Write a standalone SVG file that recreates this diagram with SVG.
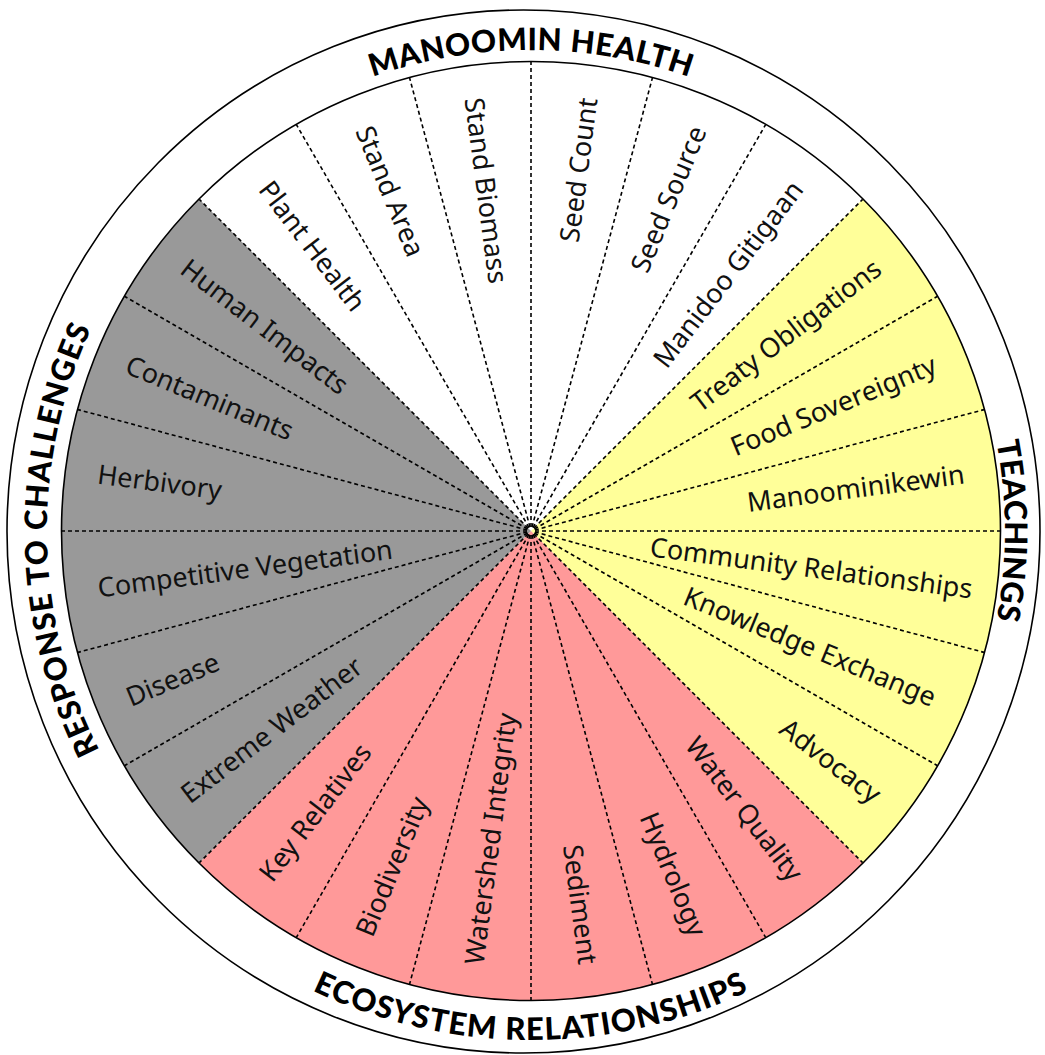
<svg xmlns="http://www.w3.org/2000/svg" xmlns:xlink="http://www.w3.org/1999/xlink" width="1045" height="1055" viewBox="0 0 1045 1055">
  <style>
    .ring { fill: none; stroke: #000; stroke-width: 1.6; }
    .spoke { stroke: #000; stroke-width: 1.6; stroke-dasharray: 4 3; }
    .lbl { font-family: "Noto Sans", "DejaVu Sans", sans-serif; font-size: 27px; fill: #111; }
    .out { text-anchor: end; }
    .in { text-anchor: start; }
    .title { font-family: Lato, "Liberation Sans", sans-serif; font-weight: 900; font-size: 31px; fill: #000; letter-spacing: 1.1px; }
    .tight { letter-spacing: 0.5px; }
  </style>
  <defs>
    <path id="arcTop" d="M50,531 A481,481 0 0 1 1012,531"/>
    <path id="arcRight" d="M531,57 A474,474 0 0 1 531,1005"/>
    <path id="arcBottom" d="M22,531 A509,509 0 0 0 1040,531"/>
    <path id="arcLeft" d="M531,1015 A484,484 0 0 1 531,47"/>
    <line id="sp" class="spoke" x1="4" y1="0" x2="469" y2="0"/>
  </defs>

  <rect width="1045" height="1055" fill="#fff"/>

  <!-- outer ring -->
  <ellipse class="ring" cx="523.5" cy="531.5" rx="516.5" ry="521.5"/>

  <!-- quadrant fills -->
  <g id="quadrants">
    <path id="q-health" d="M531,531 L199.01,199.01 A469.5,469.5 0 0 1 862.99,199.01 Z" fill="#ffffff"/>
    <path id="q-teachings" d="M531,531 L862.99,199.01 A469.5,469.5 0 0 1 862.99,862.99 Z" fill="#ffff99"/>
    <path id="q-ecosystem" d="M531,531 L862.99,862.99 A469.5,469.5 0 0 1 199.01,862.99 Z" fill="#ff9999"/>
    <path id="q-challenges" d="M531,531 L199.01,862.99 A469.5,469.5 0 0 1 199.01,199.01 Z" fill="#999999"/>
  </g>

  <!-- dashed dividers every 15 degrees -->
  <g id="connectors" transform="translate(531,531)">
    <use xlink:href="#sp" transform="rotate(0)"/>
    <use xlink:href="#sp" transform="rotate(15)"/>
    <use xlink:href="#sp" transform="rotate(30)"/>
    <use xlink:href="#sp" transform="rotate(45)"/>
    <use xlink:href="#sp" transform="rotate(60)"/>
    <use xlink:href="#sp" transform="rotate(75)"/>
    <use xlink:href="#sp" transform="rotate(90)"/>
    <use xlink:href="#sp" transform="rotate(105)"/>
    <use xlink:href="#sp" transform="rotate(120)"/>
    <use xlink:href="#sp" transform="rotate(135)"/>
    <use xlink:href="#sp" transform="rotate(150)"/>
    <use xlink:href="#sp" transform="rotate(165)"/>
    <use xlink:href="#sp" transform="rotate(180)"/>
    <use xlink:href="#sp" transform="rotate(195)"/>
    <use xlink:href="#sp" transform="rotate(210)"/>
    <use xlink:href="#sp" transform="rotate(225)"/>
    <use xlink:href="#sp" transform="rotate(240)"/>
    <use xlink:href="#sp" transform="rotate(255)"/>
    <use xlink:href="#sp" transform="rotate(270)"/>
    <use xlink:href="#sp" transform="rotate(285)"/>
    <use xlink:href="#sp" transform="rotate(300)"/>
    <use xlink:href="#sp" transform="rotate(315)"/>
    <use xlink:href="#sp" transform="rotate(330)"/>
    <use xlink:href="#sp" transform="rotate(345)"/>
  </g>

  <!-- inner ring -->
  <circle class="ring" cx="531" cy="531" r="469.5"/>

  <!-- Manoomin health -->
  <g id="plant-health"><text class="lbl in" transform="translate(264.97,184.31) rotate(52.5)" dy="9.5">Plant Health</text></g>
  <g id="stand-area"><text class="lbl in" transform="translate(363.77,127.26) rotate(67.5)" dy="9.5">Stand Area</text></g>
  <g id="stand-biomass"><text class="lbl in" transform="translate(473.96,97.74) rotate(82.5)" dy="9.5">Stand Biomass</text></g>
  <g id="seed-count"><text class="lbl out" transform="translate(588.04,97.74) rotate(-82.5)" dy="9.5">Seed Count</text></g>
  <g id="seed-source"><text class="lbl out" transform="translate(698.23,127.26) rotate(-67.5)" dy="9.5">Seed Source</text></g>
  <g id="manidoo-gitigaan"><text class="lbl out" transform="translate(797.03,184.31) rotate(-52.5)" dy="9.5">Manidoo Gitigaan</text></g>

  <!-- Teachings -->
  <g id="treaty-obligations"><text class="lbl out" transform="translate(877.69,264.97) rotate(-37.5)" dy="9.5">Treaty Obligations</text></g>
  <g id="food-sovereignty"><text class="lbl out" transform="translate(934.74,363.77) rotate(-22.5)" dy="9.5">Food Sovereignty</text></g>
  <g id="manoominikewin"><text class="lbl out" transform="translate(964.26,473.96) rotate(-7.5)" dy="9.5">Manoominikewin</text></g>
  <g id="community-relationships"><text class="lbl out" transform="translate(972.2,589.1) rotate(7.5)" dy="9.5">Community Relationships</text></g>
  <g id="knowledge-exchange"><text class="lbl out" transform="translate(934.74,698.23) rotate(22.5)" dy="9.5">Knowledge Exchange</text></g>
  <g id="advocacy"><text class="lbl out" transform="translate(877.69,797.03) rotate(37.5)" dy="9.5">Advocacy</text></g>

  <!-- Ecosystem relationships -->
  <g id="water-quality"><text class="lbl out" transform="translate(797.03,877.69) rotate(52.5)" dy="9.5">Water Quality</text></g>
  <g id="hydrology"><text class="lbl out" transform="translate(698.23,934.74) rotate(67.5)" dy="9.5">Hydrology</text></g>
  <g id="sediment"><text class="lbl out" transform="translate(588.04,964.26) rotate(82.5)" dy="9.5">Sediment</text></g>
  <g id="watershed-integrity"><text class="lbl in" transform="translate(473.96,964.26) rotate(-82.5)" dy="9.5">Watershed Integrity</text></g>
  <g id="biodiversity"><text class="lbl in" transform="translate(363.77,934.74) rotate(-67.5)" dy="9.5">Biodiversity</text></g>
  <g id="key-relatives"><text class="lbl in" transform="translate(264.97,877.69) rotate(-52.5)" dy="9.5">Key Relatives</text></g>

  <!-- Response to challenges -->
  <g id="extreme-weather"><text class="lbl in" transform="translate(184.31,797.03) rotate(-37.5)" dy="9.5">Extreme Weather</text></g>
  <g id="disease"><text class="lbl in" transform="translate(127.26,698.23) rotate(-22.5)" dy="9.5">Disease</text></g>
  <g id="competitive-vegetation"><text class="lbl in" transform="translate(97.74,588.04) rotate(-7.5)" dy="9.5">Competitive Vegetation</text></g>
  <g id="herbivory"><text class="lbl in" transform="translate(97.74,473.96) rotate(7.5)" dy="9.5">Herbivory</text></g>
  <g id="contaminants"><text class="lbl in" transform="translate(127.26,363.77) rotate(22.5)" dy="9.5">Contaminants</text></g>
  <g id="human-impacts"><text class="lbl in" transform="translate(184.31,264.97) rotate(37.5)" dy="9.5">Human Impacts</text></g>

  <!-- quadrant titles on the outer ring -->
  <g id="title-health"><text class="title tight"><textPath xlink:href="#arcTop" startOffset="50%" text-anchor="middle">MANOOMIN HEALTH</textPath></text></g>
  <g id="title-teachings"><text class="title tight"><textPath xlink:href="#arcRight" startOffset="50%" text-anchor="middle">TEACHINGS</textPath></text></g>
  <g id="title-ecosystem"><text class="title"><textPath xlink:href="#arcBottom" startOffset="50%" text-anchor="middle">ECOSYSTEM RELATIONSHIPS</textPath></text></g>
  <g id="title-challenges"><text class="title"><textPath xlink:href="#arcLeft" startOffset="751" text-anchor="middle">RESPONSE TO CHALLENGES</textPath></text></g>
</svg>
